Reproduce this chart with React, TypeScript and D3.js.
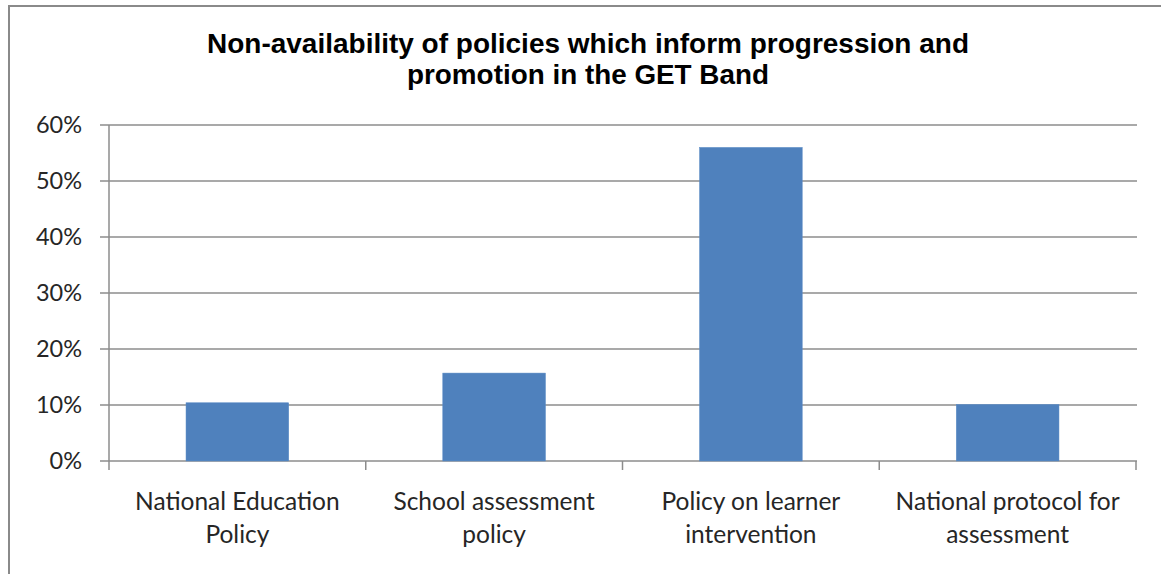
import React from "react";
import * as d3 from "d3";

const categories: string[][] = [
  ["National Education", "Policy"],
  ["School assessment", "policy"],
  ["Policy on learner", "intervention"],
  ["National protocol for", "assessment"],
];
const values: number[] = [0.104, 0.157, 0.56, 0.101];
const yTicks: number[] = [0, 0.1, 0.2, 0.3, 0.4, 0.5, 0.6];
const titleLines: string[] = [
  "Non-availability of policies which inform progression and",
  "promotion in the GET Band",
];

export default function App() {
  const W = 1161, H = 574;
  const left = 109, right = 1136, top = 125, bottom = 461;
  const keys = categories.map((_, i) => String(i));
  const x = d3.scaleBand<string>().domain(keys).range([left, right]).paddingInner(0.6).paddingOuter(0.3);
  const y = d3.scaleLinear().domain([0, 0.6]).range([bottom, top]);
  const step = x.step();
  const fmt = d3.format(".0%");
  const textFont = "Lato, 'Open Sans', sans-serif";
  return (
    <svg width={W} height={H} style={{ position: "absolute", left: 0, top: 0 }} xmlns="http://www.w3.org/2000/svg">
      <rect x={0} y={0} width={W} height={H} fill="#fff" />
      <rect x={9} y={6} width={W + 20} height={H + 20} fill="#fff" stroke="#8a8a8a" strokeWidth={2} />
      {titleLines.map((t, i) => (
        <text key={i} x={588} y={53 + i * 31} textAnchor="middle" fontFamily="'Liberation Sans', Arial, sans-serif" fontWeight="bold" fontSize={27} fill="#000"
          textLength={i === 0 ? 762 : 362} lengthAdjust="spacingAndGlyphs">
          {t}
        </text>
      ))}
      {yTicks.map((v) => (
        <g key={v}>
          <line x1={left - 9} x2={right + 1} y1={y(v)} y2={y(v)} stroke="#8c8c8c" strokeWidth={1.5} />
          <text x={82} y={y(v) + 8} textAnchor="end" fontFamily={textFont} fontSize={23.5} fill="#262626">
            {fmt(v)}
          </text>
        </g>
      ))}
      <line x1={left} x2={left} y1={top} y2={bottom} stroke="#8c8c8c" strokeWidth={1.5} />
      {d3.range(categories.length + 1).map((i) => (
        <line key={i} x1={left + i * step} x2={left + i * step} y1={bottom} y2={bottom + 9} stroke="#8c8c8c" strokeWidth={1.5} />
      ))}
      {values.map((v, i) => (
        <rect key={i} x={x(String(i))} y={y(v)} width={x.bandwidth()} height={bottom - y(v)} fill="#4f81bd" stroke="#5b8cc6" strokeWidth={0.5} />
      ))}
      {categories.map((lines, i) => (
        <text key={i} x={(x(String(i)) as number) + x.bandwidth() / 2} textAnchor="middle" fontFamily={textFont} fontSize={24.5} fill="#262626">
          {lines.map((l, j) => (
            <tspan key={j} x={(x(String(i)) as number) + x.bandwidth() / 2} y={510 + j * 33}>
              {l}
            </tspan>
          ))}
        </text>
      ))}
    </svg>
  );
}
